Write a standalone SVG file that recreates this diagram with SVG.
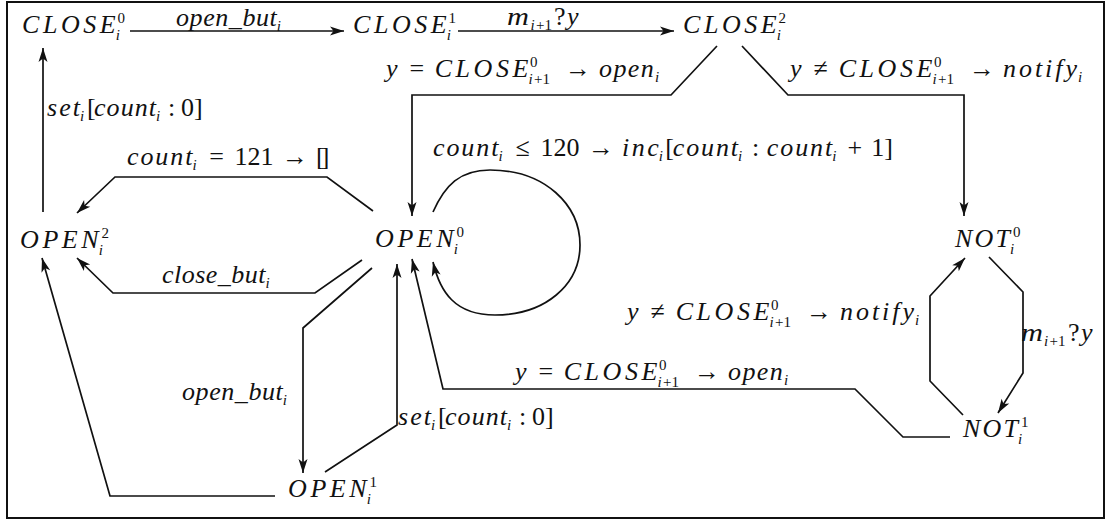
<svg xmlns="http://www.w3.org/2000/svg" width="1109" height="521" viewBox="0 0 1109 521">
<defs>
<style>
.t{font-family:"Liberation Serif","Times New Roman",serif;font-style:italic;font-size:26px;fill:#111}
.u{font-style:normal}
.sc{font-size:15px}
.e{fill:none;stroke:#111;stroke-width:1.7;stroke-linejoin:miter;marker-end:url(#ah)}
.box{letter-spacing:-4px}
</style>
<marker id="ah" viewBox="-15 -6 16 12" refX="0" refY="0" markerWidth="16" markerHeight="12" markerUnits="userSpaceOnUse" orient="auto">
<path d="M0,0 L-14,-4.5 L-10.5,0 L-14,4.5 Z" fill="#111"/>
</marker>
</defs>
<rect width="1109" height="521" fill="#fff"/>
<rect x="7" y="2" width="1097" height="516" fill="none" stroke="#111" stroke-width="2"/>

<!-- states -->
<g id="close0"><text class="t"><tspan x="22" y="33" textLength="93.7" lengthAdjust="spacing">CLOSE</tspan><tspan class="sc u" x="117.5" y="22.5">0</tspan><tspan class="sc" x="115.7" y="40">i</tspan></text></g>
<g id="close1"><text class="t"><tspan x="353" y="33" textLength="93.7" lengthAdjust="spacing">CLOSE</tspan><tspan class="sc u" x="448.5" y="22.5">1</tspan><tspan class="sc" x="446.7" y="40">i</tspan></text></g>
<g id="close2"><text class="t"><tspan x="683" y="33" textLength="93.7" lengthAdjust="spacing">CLOSE</tspan><tspan class="sc u" x="778.5" y="22.5">2</tspan><tspan class="sc" x="776.7" y="40">i</tspan></text></g>
<g id="open2"><text class="t"><tspan x="20" y="248" textLength="78.7" lengthAdjust="spacing">OPEN</tspan><tspan class="sc u" x="101.6" y="237.5">2</tspan><tspan class="sc" x="98.7" y="255">i</tspan></text></g>
<g id="open0"><text class="t"><tspan x="375" y="247" textLength="78.7" lengthAdjust="spacing">OPEN</tspan><tspan class="sc u" x="456.6" y="236.5">0</tspan><tspan class="sc" x="453.7" y="254">i</tspan></text></g>
<g id="open1"><text class="t"><tspan x="288" y="497" textLength="78.7" lengthAdjust="spacing">OPEN</tspan><tspan class="sc u" x="369.6" y="486.5">1</tspan><tspan class="sc" x="366.7" y="504">i</tspan></text></g>
<g id="not0"><text class="t"><tspan x="955" y="247" textLength="55" lengthAdjust="spacing">NOT</tspan><tspan class="sc u" x="1013" y="236.5">0</tspan><tspan class="sc" x="1010" y="254">i</tspan></text></g>
<g id="not1"><text class="t"><tspan x="963" y="437" textLength="55" lengthAdjust="spacing">NOT</tspan><tspan class="sc u" x="1021" y="426.5">1</tspan><tspan class="sc" x="1018" y="444">i</tspan></text></g>

<!-- transitions -->
<g id="connectors">
<path class="e" d="M130,31 H344"/>
<path class="e" d="M458,31 H674"/>
<path class="e" d="M717,46 L671,95 H412 V216"/>
<path class="e" d="M742,46 L788,95 H964 V216"/>
<path class="e" d="M43,212 V48"/>
<path class="e" d="M373,211 L327,177 H115 L77,213"/>
<path class="e" d="M362,260 L315,293 H113 L77,258"/>
<path class="e" d="M433,212 C445,185 460,170 490,170 C545,170 580,205 580,245 C580,285 545,315 495,315 C455,315 440,292 433,262"/>
<path class="e" d="M372,268 L303,328 V473"/>
<path class="e" d="M325,472 L397,425 V264"/>
<path class="e" d="M950,437 H903 L855,389 H443 L412,259"/>
<path class="e" d="M275,496 H110 L42,258"/>
<path class="e" d="M963,415 L930,381 V296 L965,258"/>
<path class="e" d="M989,257 L1023,292 V373 L998,413"/>
</g>

<!-- transition labels -->
<g id="labels">
<text class="t"><tspan x="176" y="26" textLength="100.8" lengthAdjust="spacing">open_but</tspan><tspan class="sc" x="276.8" y="31">i</tspan></text>
<text class="t"><tspan x="507" y="25" textLength="22" lengthAdjust="spacingAndGlyphs">m</tspan><tspan class="sc" x="530.4" y="30">i</tspan><tspan class="sc u" x="536" y="30">+1</tspan><tspan class="u" x="554" y="25">?</tspan><tspan x="567" y="25">y</tspan></text>
<text class="t"><tspan x="386" y="77">y</tspan><tspan class="u" x="409.5" y="77">=</tspan><tspan x="434.7" y="77" textLength="93.7" lengthAdjust="spacing">CLOSE</tspan><tspan class="sc u" x="530" y="66.5">0</tspan><tspan class="sc" x="528.4" y="84">i</tspan><tspan class="sc u" x="534" y="84">+1</tspan><tspan class="u" x="565" y="77">→</tspan><tspan x="599" y="77" textLength="54.8" lengthAdjust="spacing">open</tspan><tspan class="sc" x="655" y="82">i</tspan></text>
<text class="t"><tspan x="790" y="77">y</tspan><tspan class="u" x="813.5" y="77">≠</tspan><tspan x="838.7" y="77" textLength="93.7" lengthAdjust="spacing">CLOSE</tspan><tspan class="sc u" x="934" y="66.5">0</tspan><tspan class="sc" x="932.4" y="84">i</tspan><tspan class="sc u" x="938" y="84">+1</tspan><tspan class="u" x="969" y="77">→</tspan><tspan x="1003" y="77" textLength="74" lengthAdjust="spacing">notify</tspan><tspan class="sc" x="1078" y="82">i</tspan></text>
<text class="t"><tspan x="47" y="116" textLength="33" lengthAdjust="spacing">set</tspan><tspan class="sc" x="80" y="121">i</tspan><tspan class="u" x="87" y="116">[</tspan><tspan x="94" y="116" textLength="62" lengthAdjust="spacing">count</tspan><tspan class="sc" x="156" y="121">i</tspan><tspan class="u" x="168" y="116">:</tspan><tspan class="u" x="181" y="116">0]</tspan></text>
<text class="t"><tspan x="127" y="165" textLength="65.4" lengthAdjust="spacing">count</tspan><tspan class="sc" x="192.4" y="170">i</tspan><tspan class="u" x="209.3" y="165">=</tspan><tspan class="u" x="234.5" y="165">121</tspan><tspan class="u" x="281.9" y="165">→</tspan><tspan class="u box" x="316" y="165">[]</tspan></text>
<text class="t"><tspan x="162" y="283" textLength="103.4" lengthAdjust="spacing">close_but</tspan><tspan class="sc" x="265.4" y="288">i</tspan></text>
<text class="t"><tspan x="433" y="156" textLength="65.4" lengthAdjust="spacing">count</tspan><tspan class="sc" x="498.4" y="161">i</tspan><tspan class="u" x="515.5" y="156">≤</tspan><tspan class="u" x="540.5" y="156">120</tspan><tspan class="u" x="587.9" y="156">→</tspan><tspan x="622" y="156" textLength="36.8" lengthAdjust="spacing">inc</tspan><tspan class="sc" x="658.8" y="161">i</tspan><tspan class="u" x="665.3" y="156">[</tspan><tspan x="672.7" y="156" textLength="65.4" lengthAdjust="spacing">count</tspan><tspan class="sc" x="738.1" y="161">i</tspan><tspan class="u" x="752" y="156">:</tspan><tspan x="766.8" y="156" textLength="65.4" lengthAdjust="spacing">count</tspan><tspan class="sc" x="832.2" y="161">i</tspan><tspan class="u" x="847.6" y="156">+</tspan><tspan class="u" x="871.3" y="156">1]</tspan></text>
<text class="t"><tspan x="182" y="400" textLength="100.8" lengthAdjust="spacing">open_but</tspan><tspan class="sc" x="282.8" y="405">i</tspan></text>
<text class="t"><tspan x="398" y="425" textLength="33" lengthAdjust="spacing">set</tspan><tspan class="sc" x="431" y="430">i</tspan><tspan class="u" x="438" y="425">[</tspan><tspan x="445" y="425" textLength="62" lengthAdjust="spacing">count</tspan><tspan class="sc" x="507" y="430">i</tspan><tspan class="u" x="519" y="425">:</tspan><tspan class="u" x="532" y="425">0]</tspan></text>
<text class="t"><tspan x="627" y="320">y</tspan><tspan class="u" x="650.5" y="320">≠</tspan><tspan x="675.7" y="320" textLength="93.7" lengthAdjust="spacing">CLOSE</tspan><tspan class="sc u" x="771" y="309.5">0</tspan><tspan class="sc" x="769.4" y="327">i</tspan><tspan class="sc u" x="775" y="327">+1</tspan><tspan class="u" x="806" y="320">→</tspan><tspan x="840" y="320" textLength="74" lengthAdjust="spacing">notify</tspan><tspan class="sc" x="915" y="325">i</tspan></text>
<text class="t"><tspan x="1021" y="341" textLength="22" lengthAdjust="spacingAndGlyphs">m</tspan><tspan class="sc" x="1044" y="346">i</tspan><tspan class="sc u" x="1049.6" y="346">+1</tspan><tspan class="u" x="1068" y="341">?</tspan><tspan x="1081" y="341">y</tspan></text>
<text class="t"><tspan x="515" y="380">y</tspan><tspan class="u" x="538.5" y="380">=</tspan><tspan x="563.7" y="380" textLength="93.7" lengthAdjust="spacing">CLOSE</tspan><tspan class="sc u" x="659" y="369.5">0</tspan><tspan class="sc" x="657.4" y="387">i</tspan><tspan class="sc u" x="663" y="387">+1</tspan><tspan class="u" x="694" y="380">→</tspan><tspan x="728" y="380" textLength="54.8" lengthAdjust="spacing">open</tspan><tspan class="sc" x="784" y="385">i</tspan></text>
</g>
</svg>
